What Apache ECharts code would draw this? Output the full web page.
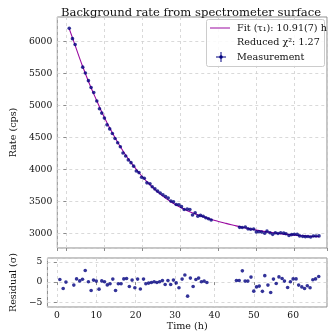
<!DOCTYPE html>
<html>
<head>
<meta charset="utf-8">
<script src="https://cdn.jsdelivr.net/npm/echarts@6/dist/echarts.min.js"></script>
<style>
  html, body { margin: 0; padding: 0; background: #fff; }
  #chart { width: 332px; height: 332px; }
</style>
</head>
<body>
<div id="chart"></div>
<script>
// measurement times (h)
let timeData = [0.75, 1.6, 2.3, 4.3, 5.0, 5.8, 6.5, 7.2, 8.0, 8.7, 9.3, 10.0, 10.7, 11.4, 12.1, 12.8,
  13.5, 14.2, 14.9, 15.6, 16.3, 17.0, 17.7, 18.4, 19.1, 19.8, 20.5, 21.2, 22.0, 22.6, 23.3, 24.0,
  24.7, 25.4, 26.1, 26.8, 27.5, 28.2, 28.9, 29.6, 30.3, 31.0, 31.8, 32.5, 33.2, 33.9, 34.6, 35.3,
  36.0, 36.7, 37.4, 38.1,
  45.6, 46.3, 47.1, 47.8, 48.5, 49.3, 50.0, 50.7, 51.4, 52.2, 52.8, 53.6, 54.3, 55.0, 55.7, 56.4,
  57.2, 57.8, 58.6, 59.3, 60.0, 60.75, 61.4, 62.2, 62.9, 63.6, 64.3, 65.0, 65.7, 66.5];

// measured rate (cps)
let rateData = [6202, 6040, 5948, 5595, 5505, 5385, 5278, 5200, 5068, 4945, 4878, 4800, 4695, 4632, 4560, 4483,
  4415, 4352, 4255, 4208, 4148, 4105, 4050, 3975, 3950, 3878, 3862, 3790, 3775, 3728, 3695, 3660,
  3632, 3603, 3575, 3552, 3505, 3495, 3452, 3448, 3418, 3375, 3380, 3375, 3288, 3322, 3270, 3282,
  3268, 3245, 3230, 3210,
  3095, 3092, 3100, 3072, 3066, 3070, 3024, 3026, 3022, 3004, 3036, 3010, 2986, 3012, 3000, 3012,
  3005, 2995, 2970, 2982, 2988, 2985, 2962, 2955, 2950, 2952, 2945, 2960, 2960, 2962];

// residuals (sigma)
let residData = [0.65, -1.6, 0, -0.75, 0.8, 0.3, 0.7, 2.9, 0.1, -2.1, 0.5, 0.25, -1.75, 0.3, 0.1, -0.7,
  -0.4, 0.75, -2.1, -0.4, -0.4, 0.8, 0.9, -1.1, 0.5, -1.4, 0.75, -1.7, 0.75, -0.4, -0.25, -0.1,
  0.1, -0.1, 0.1, 0.4, -0.6, 0.4, -0.6, 0.5, -0.2, -1.4, 0.75, 1.75, -3.5, 1.0, -1.1, 0.65,
  1.0, 0.1, 0.25, -0.1,
  0.4, 0.4, 2.8, 0.25, 0.25, 1.25, -2.25, -1.2, -1.0, -2.3, 1.6, -0.75, -2.6, 0.75, -0.35, 1.3,
  0.9, 0.25, -1.35, 0.1, 0.8, 0.8, -0.75, -1.2, -1.6, -0.9, -1.4, 0.6, 0.8, 1.4];

// fit curve
let fitTime = [0.75, 2, 4, 6, 8, 10, 12, 14, 16, 18, 20, 22, 24, 26, 28, 30, 32, 34, 36, 38,
  40, 42, 44, 46, 48, 50, 52, 54, 56, 58, 60, 62, 64, 66.5];
let fitRate = [6195, 5985, 5650, 5345, 5070, 4810, 4580, 4375, 4190, 4030, 3885, 3760, 3650, 3555, 3475, 3408, 3352, 3303, 3260, 3222,
  3188, 3157, 3128, 3100, 3075, 3052, 3032, 3014, 2999, 2985, 2974, 2964, 2956, 2950];

let titleText = 'Background rate from spectrometer surface';
let legendTexts = ['Fit (τ\u2081): 10.91(7) h', 'Reduced χ\u00b2: 1.27', 'Measurement'];

const serif = '"DejaVu Serif", serif';
const dotColor = '#000080';
const fitColor = '#9a0aa0';
const frameColor = '#8c8c8c';
const textColor = '#111';
const gridLine = { show: true, lineStyle: { color: '#d0d0d0', type: [3, 3], width: 0.8 } };
const tickLabel = {
  fontFamily: serif, fontSize: 9.2, color: textColor, margin: 5,
  showMinLabel: false, showMaxLabel: false,
  formatter: v => String(v).replace('-', '\u2212')
};

let chart = echarts.init(document.getElementById('chart'));

function zip(a, b) {
  return a.map((v, i) => [v, b[i]]);
}

let option = {
  animation: false,
  backgroundColor: '#fff',
  title: {
    text: titleText,
    left: 186, top: 2, textAlign: 'center',
    textStyle: { fontFamily: serif, fontSize: 11.6, fontWeight: 'normal', color: textColor }
  },
  grid: [
    { left: 43, top: 17, width: 284, height: 231, show: true, borderColor: frameColor, borderWidth: 1 },
    { left: 43, top: 258, width: 284, height: 50, show: true, borderColor: frameColor, borderWidth: 1 }
  ],
  xAxis: [
    {
      gridIndex: 0, type: 'value', min: -2.4, max: 68.6, splitNumber: 7, minInterval: 10, maxInterval: 10,
      axisLine: { show: false },
      axisTick: { show: true, length: 3, lineStyle: { color: frameColor } },
      axisLabel: { show: false },
      splitLine: gridLine
    },
    {
      gridIndex: 1, type: 'value', min: -2.4, max: 68.6, splitNumber: 7, minInterval: 10, maxInterval: 10,
      name: 'Time (h)', nameLocation: 'middle', nameGap: 14,
      nameTextStyle: { fontFamily: serif, fontSize: 9.6, color: textColor },
      axisLine: { show: false },
      axisTick: { show: true, length: 3, lineStyle: { color: frameColor } },
      axisLabel: Object.assign({}, tickLabel, { margin: 4 }),
      splitLine: gridLine
    }
  ],
  yAxis: [
    {
      gridIndex: 0, type: 'value', min: 2773, max: 6378, splitNumber: 7, minInterval: 500, maxInterval: 500,
      name: 'Rate (cps)', nameLocation: 'middle', nameGap: 31, nameRotate: 90,
      nameTextStyle: { fontFamily: serif, fontSize: 9.6, color: textColor },
      axisLine: { show: false },
      axisTick: { show: true, length: 3, lineStyle: { color: frameColor } },
      axisLabel: tickLabel,
      splitLine: gridLine
    },
    {
      gridIndex: 1, type: 'value', min: -6.2, max: 6, splitNumber: 3, minInterval: 5, maxInterval: 5,
      name: 'Residual (σ)', nameLocation: 'middle', nameGap: 26, nameRotate: 90,
      nameTextStyle: { fontFamily: serif, fontSize: 9.6, color: textColor },
      axisLine: { show: false },
      axisTick: { show: true, length: 3, lineStyle: { color: frameColor } },
      axisLabel: tickLabel,
      splitLine: gridLine
    }
  ],
  series: [
    {
      name: 'Fit', type: 'line', xAxisIndex: 0, yAxisIndex: 0,
      data: zip(fitTime, fitRate), smooth: true, showSymbol: false,
      lineStyle: { color: fitColor, width: 1.1 }, z: 2
    },
    {
      name: 'Measurement', type: 'scatter', xAxisIndex: 0, yAxisIndex: 0,
      data: zip(timeData, rateData), symbol: 'circle', symbolSize: 3.6,
      itemStyle: { color: dotColor }, z: 3
    },
    {
      name: 'Residual', type: 'scatter', xAxisIndex: 1, yAxisIndex: 1,
      data: zip(timeData, residData), symbol: 'circle', symbolSize: 3.6,
      itemStyle: { color: dotColor }, z: 3
    }
  ],
  graphic: [
    {
      type: 'rect', shape: { x: 206.5, y: 19.5, width: 118, height: 47, r: 2 },
      style: { fill: 'rgba(255,255,255,0.85)', stroke: '#cccccc', lineWidth: 1 }, z: 10
    },
    { type: 'line', shape: { x1: 210, y1: 28, x2: 230, y2: 28 }, style: { stroke: fitColor, lineWidth: 1 }, z: 11 },
    { type: 'line', shape: { x1: 216, y1: 57, x2: 226, y2: 57 }, style: { stroke: dotColor, lineWidth: 1 }, z: 11 },
    { type: 'line', shape: { x1: 221, y1: 52, x2: 221, y2: 62 }, style: { stroke: dotColor, lineWidth: 1 }, z: 11 },
    { type: 'circle', shape: { cx: 221, cy: 57, r: 1.8 }, style: { fill: dotColor }, z: 11 },
    {
      type: 'text', left: 237, top: 23, z: 11,
      style: { text: legendTexts[0], font: '9.6px ' + serif, fill: textColor }
    },
    {
      type: 'text', left: 237, top: 37.5, z: 11,
      style: { text: legendTexts[1], font: '9.6px ' + serif, fill: textColor }
    },
    {
      type: 'text', left: 237, top: 52, z: 11,
      style: { text: legendTexts[2], font: '9.6px ' + serif, fill: textColor }
    }
  ]
};

chart.setOption(option);
</script>
</body>
</html>
